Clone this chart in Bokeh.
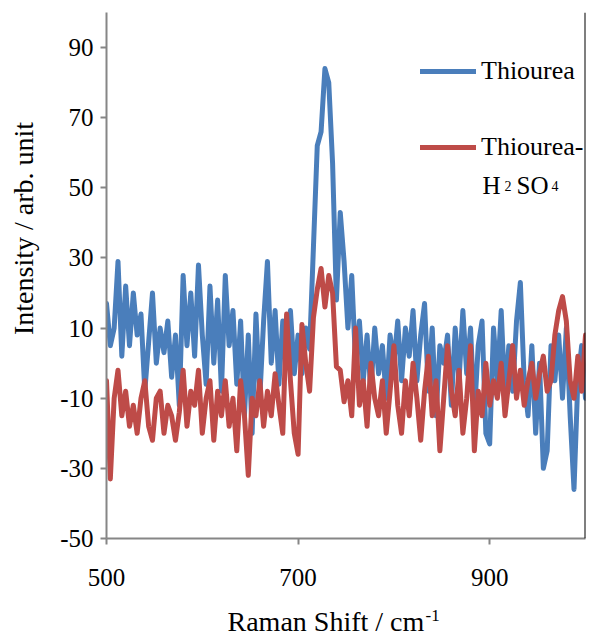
import math
from bokeh.plotting import figure
from bokeh.models import (Range1d, FixedTicker, Label, Legend, LegendItem, Span,
                          ColumnDataSource)
from bokeh.embed import file_html
from bokeh.resources import INLINE

# ---------------- data ----------------
wavenumber = list(range(500, 1001, 4))   # Raman shift / cm-1 (126 points)

thiourea = [
    17, 5, 10, 29, 2, 22, 5, 20, 8, 14,
    -8, 6, 20, 0, 10, 3, 12, -4, 8, -12,
    25, 5, 20, 2, 28, 8, -6, 22, 0, 18,
    -8, 25, 5, 15, -6, 12, -15, 8, -20, 14,
    -10, 12, 29, 0, 15, -6, 12, 4, 15, -3,
    8, -3, 10, 4, 33, 62, 66, 84, 80, 57,
    18, 43, 29, 10, 25, 0, 12, -5, 8, -8,
    10, -3, 5, -10, 8, 0, 12, -5, 10, 2,
    15, -5, 8, 17, -8, 10, -15, 5, 0, 8,
    -12, 10, -5, 15, -3, 10, -15, 5, 12, -20,
    -23, 10, -5, 15, -10, 5, -8, 12, 23, -5,
    -15, 5, -20, 0, -30, -25, 5, -5, 8, -10,
    10, -15, -36, -5, 5, -10,
]

thiourea_h2so4 = [
    -5, -33, -10, -2, -15, -8, -18, -12, -20, -10,
    -5, -18, -22, -10, -8, -20, -12, -15, -22, -14,
    -2, -18, -8, -12, -2, -20, -10, -5, -22, -8,
    -15, -5, -18, -10, -25, -5, -15, -32, -10, -15,
    -5, -18, -8, -15, -3, -12, -20, 14, -5, -20,
    -26, 11, 0, -8, 13, 21, 27, 16, 25, 20,
    -1, -2, -11, -5, -15, 10, -12, -5, -18, 0,
    -10, -15, -5, -20, -8, 5, -12, -20, -5, -15,
    0, -10, -22, -8, 2, -15, -5, -25, -10, 5,
    -8, -15, -2, -20, -10, 5, -25, -8, -15, 0,
    -12, -5, -10, 0, -15, -5, 5, -10, -2, -12,
    -5, 0, -10, -3, 2, -8, -5, 8, 15, 19,
    12, -5, -10, 2, -8, 8,
]

x_ticks = [500, 700, 900]
x_tick_labels = ["500", "700", "900"]
y_ticks = [-50, -30, -10, 10, 30, 50, 70, 90]
y_tick_labels = ["-50", "-30", "-10", "10", "30", "50", "70", "90"]
series_names = ["Thiourea", "Thiourea-"]
x_title = "Raman Shift / cm"
x_title_sup = "-1"
y_title = "Intensity / arb. unit"

# ---------------- styling ----------------
FONT = "Liberation Serif"
BLUE = "#4A7EBB"
RED = "#BE4B48"
GREY = "#868686"

src = ColumnDataSource(dict(x=wavenumber, a=thiourea, b=thiourea_h2so4))

p = figure(width=588, height=636, output_backend="svg", toolbar_location=None,
           x_range=Range1d(500, 1000), y_range=Range1d(-50, 100),
           min_border_left=106, min_border_right=3, min_border_top=12,
           min_border_bottom=98)
p.outline_line_color = None
p.xgrid.visible = False
p.ygrid.visible = False
p.background_fill_color = "white"

r1 = p.line("x", "a", source=src, line_color=BLUE, line_width=5,
            line_join="round", line_cap="round")
r2 = p.line("x", "b", source=src, line_color=RED, line_width=5,
            line_join="round", line_cap="round")

for ax, ticks, labels in ((p.xaxis[0], x_ticks, x_tick_labels),
                          (p.yaxis[0], y_ticks, y_tick_labels)):
    ax.ticker = FixedTicker(ticks=ticks)
    ax.major_label_overrides = dict(zip(ticks, labels))
    ax.minor_tick_line_color = None
    ax.axis_line_color = GREY
    ax.axis_line_width = 2
    ax.major_tick_line_color = GREY
    ax.major_tick_line_width = 2
    ax.major_tick_in = 0
    ax.major_tick_out = 6
    ax.major_label_text_font = FONT
    ax.major_label_text_font_size = "25px"
    ax.major_label_text_color = "black"

p.xaxis[0].major_label_standoff = 24
p.yaxis[0].major_label_standoff = 7

# right border line
p.add_layout(Span(location=1000, dimension="height", line_color="black",
                  line_width=2))

# axis titles (labels living in the side panels)
p.add_layout(Label(x=-3, y=310, x_units="screen", y_units="screen",
                   text=y_title, angle=math.pi / 2,
                   text_align="center", text_baseline="middle",
                   text_font=FONT, text_font_size="28px", text_color="black"),
             "left")
p.add_layout(Label(x=121, y=-2, x_units="screen", y_units="screen",
                   text=x_title, text_align="left", text_baseline="alphabetic",
                   text_font=FONT, text_font_size="28px", text_color="black"),
             "below")
p.add_layout(Label(x=319, y=15, x_units="screen", y_units="screen",
                   text=x_title_sup, text_align="left",
                   text_baseline="alphabetic",
                   text_font=FONT, text_font_size="17px", text_color="black"),
             "below")

# legend
legend = Legend(items=[LegendItem(label=series_names[0], renderers=[r1]),
                       LegendItem(label=series_names[1], renderers=[r2])],
                location=(314, 376), orientation="vertical",
                padding=0, margin=0, spacing=46,
                glyph_width=56, glyph_height=24, label_height=24,
                label_standoff=5,
                label_text_font=FONT, label_text_font_size="26px",
                label_text_color="black",
                border_line_alpha=0, background_fill_alpha=0)
p.add_layout(legend)

# H2SO4 second line of the legend label
for txt, dx, size in (("H", 376, "25px"), ("2", 398, "14px"),
                      ("SO", 410, "25px"), ("4", 445, "14px")):
    p.add_layout(Label(x=dx, y=353, x_units="screen", y_units="screen",
                       text=txt, text_align="left", text_baseline="alphabetic",
                       text_font=FONT, text_font_size=size, text_color="black"))

open("out.html", "w").write(file_html(p, INLINE))
